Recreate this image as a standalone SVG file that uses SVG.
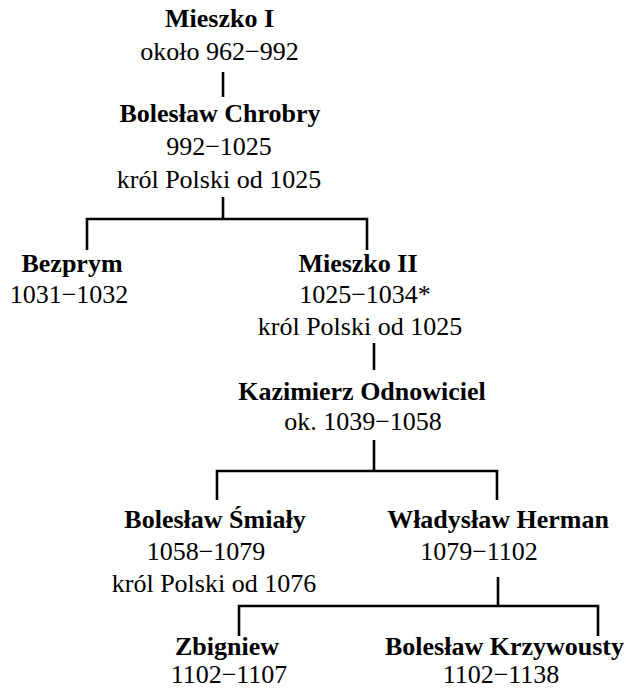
<svg xmlns="http://www.w3.org/2000/svg" width="627" height="690" viewBox="0 0 627 690">
<style>
text{font-family:"Liberation Serif","Times New Roman",serif;font-size:26px;fill:#000;text-anchor:middle}
.b{font-weight:bold}
.c{fill:none;stroke:#000;stroke-width:2.6;stroke-linecap:butt;stroke-linejoin:miter}
</style>
<rect width="627" height="690" fill="#fff"/>
<g id="connectors">
<path class="c" d="M223 72V97"/>
<path class="c" d="M223 197V219M87 250V219H367V250"/>
<path class="c" d="M374 343V370"/>
<path class="c" d="M374 440V471M217 500V471H497V500"/>
<path class="c" d="M498 577V606M239 636V606H598V636"/>
</g>
<g id="mieszko1"><text class="b" x="219.5" y="27">Mieszko I</text><text x="219.5" y="60">około 962−992</text></g>
<g id="chrobry"><text class="b" x="220" y="122">Bolesław Chrobry</text><text x="219" y="155">992−1025</text><text x="219" y="188">król Polski od 1025</text></g>
<g id="bezprym"><text class="b" x="72" y="272">Bezprym</text><text x="69" y="303">1031−1032</text></g>
<g id="mieszko2"><text class="b" x="358" y="272">Mieszko II</text><text x="365" y="303">1025−1034*</text><text x="360" y="335">król Polski od 1025</text></g>
<g id="kazimierz"><text class="b" x="362" y="400">Kazimierz Odnowiciel</text><text x="363" y="430">ok. 1039−1058</text></g>
<g id="smialy"><text class="b" x="215" y="528">Bolesław Śmiały</text><text x="206" y="560">1058−1079</text><text x="214" y="592">król Polski od 1076</text></g>
<g id="herman"><text class="b" x="498" y="528">Władysław Herman</text><text x="479" y="560">1079−1102</text></g>
<g id="zbigniew"><text class="b" x="227" y="655">Zbigniew</text><text x="229" y="683">1102−1107</text></g>
<g id="krzywousty"><text class="b" x="504.5" y="655">Bolesław Krzywousty</text><text x="501" y="683">1102−1138</text></g>
</svg>
